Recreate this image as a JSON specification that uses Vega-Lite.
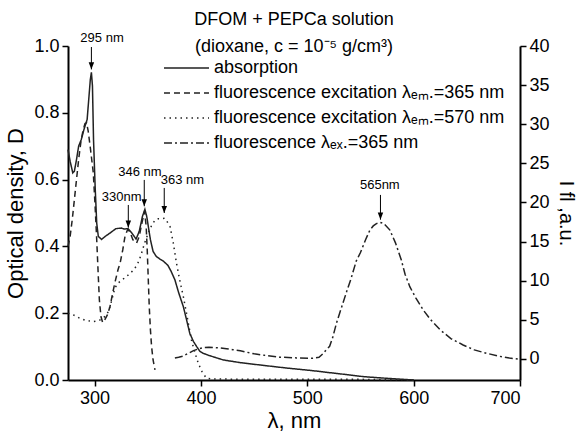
{
  "$schema": "https://vega.github.io/schema/vega-lite/v6.json",
  "width": 452,
  "height": 334,
  "autosize": {"type": "none"},
  "padding": {"left": 68, "top": 46, "right": 57, "bottom": 54},
  "background": "white",
  "title": {
    "text": ["DFOM + PEPCa solution", "(dioxane, c = 10⁻⁵ g/cm³)"],
    "font": "Liberation Sans",
    "fontSize": 18,
    "fontWeight": "normal",
    "color": "#000",
    "lineHeight": 27,
    "anchor": "middle",
    "offset": -24
  },
  "datasets": {
    "spectra": [
      {"s": "abs", "wl": 275, "v": 0.69}, {"s": "abs", "wl": 277, "v": 0.655}, {"s": "abs", "wl": 279.5, "v": 0.62},
      {"s": "abs", "wl": 281, "v": 0.625}, {"s": "abs", "wl": 283, "v": 0.66}, {"s": "abs", "wl": 285, "v": 0.7},
      {"s": "abs", "wl": 287.5, "v": 0.72}, {"s": "abs", "wl": 290, "v": 0.75}, {"s": "abs", "wl": 291.5, "v": 0.765},
      {"s": "abs", "wl": 293, "v": 0.78}, {"s": "abs", "wl": 294.5, "v": 0.84}, {"s": "abs", "wl": 296, "v": 0.9},
      {"s": "abs", "wl": 297, "v": 0.921}, {"s": "abs", "wl": 298, "v": 0.88}, {"s": "abs", "wl": 299, "v": 0.72},
      {"s": "abs", "wl": 300.5, "v": 0.58}, {"s": "abs", "wl": 302, "v": 0.47}, {"s": "abs", "wl": 303.5, "v": 0.43},
      {"s": "abs", "wl": 306.5, "v": 0.421}, {"s": "abs", "wl": 310, "v": 0.43}, {"s": "abs", "wl": 314.5, "v": 0.44},
      {"s": "abs", "wl": 320, "v": 0.453}, {"s": "abs", "wl": 325, "v": 0.455}, {"s": "abs", "wl": 328, "v": 0.452},
      {"s": "abs", "wl": 331.5, "v": 0.453}, {"s": "abs", "wl": 335, "v": 0.44}, {"s": "abs", "wl": 339, "v": 0.422},
      {"s": "abs", "wl": 342, "v": 0.445}, {"s": "abs", "wl": 345, "v": 0.49}, {"s": "abs", "wl": 347.3, "v": 0.511},
      {"s": "abs", "wl": 349, "v": 0.49}, {"s": "abs", "wl": 351, "v": 0.45}, {"s": "abs", "wl": 352.5, "v": 0.42},
      {"s": "abs", "wl": 355, "v": 0.385}, {"s": "abs", "wl": 358, "v": 0.37}, {"s": "abs", "wl": 361.5, "v": 0.362},
      {"s": "abs", "wl": 365, "v": 0.355}, {"s": "abs", "wl": 369, "v": 0.343}, {"s": "abs", "wl": 372, "v": 0.325},
      {"s": "abs", "wl": 375.5, "v": 0.3}, {"s": "abs", "wl": 379, "v": 0.262}, {"s": "abs", "wl": 383.5, "v": 0.219},
      {"s": "abs", "wl": 386.5, "v": 0.18}, {"s": "abs", "wl": 389.5, "v": 0.14}, {"s": "abs", "wl": 393, "v": 0.115},
      {"s": "abs", "wl": 396, "v": 0.1}, {"s": "abs", "wl": 399, "v": 0.086}, {"s": "abs", "wl": 402, "v": 0.08},
      {"s": "abs", "wl": 408, "v": 0.073}, {"s": "abs", "wl": 415, "v": 0.066}, {"s": "abs", "wl": 421, "v": 0.06},
      {"s": "abs", "wl": 437, "v": 0.052}, {"s": "abs", "wl": 458, "v": 0.044}, {"s": "abs", "wl": 480, "v": 0.036},
      {"s": "abs", "wl": 505, "v": 0.028}, {"s": "abs", "wl": 521, "v": 0.022}, {"s": "abs", "wl": 540, "v": 0.015},
      {"s": "abs", "wl": 553, "v": 0.01}, {"s": "abs", "wl": 575, "v": 0.005}, {"s": "abs", "wl": 600, "v": 0.0},

      {"s": "ex365", "wl": 275, "v": 0.4}, {"s": "ex365", "wl": 277, "v": 0.43}, {"s": "ex365", "wl": 279, "v": 0.48},
      {"s": "ex365", "wl": 281, "v": 0.54}, {"s": "ex365", "wl": 283, "v": 0.6}, {"s": "ex365", "wl": 285, "v": 0.66},
      {"s": "ex365", "wl": 287, "v": 0.71}, {"s": "ex365", "wl": 289, "v": 0.745}, {"s": "ex365", "wl": 291, "v": 0.768},
      {"s": "ex365", "wl": 292.5, "v": 0.77}, {"s": "ex365", "wl": 294, "v": 0.745}, {"s": "ex365", "wl": 296, "v": 0.695},
      {"s": "ex365", "wl": 298.8, "v": 0.62}, {"s": "ex365", "wl": 300.5, "v": 0.52}, {"s": "ex365", "wl": 302, "v": 0.42},
      {"s": "ex365", "wl": 303.5, "v": 0.31}, {"s": "ex365", "wl": 304.5, "v": 0.24}, {"s": "ex365", "wl": 306, "v": 0.19},
      {"s": "ex365", "wl": 307.6, "v": 0.172}, {"s": "ex365", "wl": 309.5, "v": 0.18}, {"s": "ex365", "wl": 312, "v": 0.195},
      {"s": "ex365", "wl": 314.5, "v": 0.22}, {"s": "ex365", "wl": 317, "v": 0.26}, {"s": "ex365", "wl": 319, "v": 0.29},
      {"s": "ex365", "wl": 322, "v": 0.33}, {"s": "ex365", "wl": 324, "v": 0.35}, {"s": "ex365", "wl": 326.5, "v": 0.39},
      {"s": "ex365", "wl": 328.6, "v": 0.43}, {"s": "ex365", "wl": 331, "v": 0.45}, {"s": "ex365", "wl": 333, "v": 0.445},
      {"s": "ex365", "wl": 336, "v": 0.42}, {"s": "ex365", "wl": 339.5, "v": 0.41}, {"s": "ex365", "wl": 342, "v": 0.43},
      {"s": "ex365", "wl": 344.5, "v": 0.47}, {"s": "ex365", "wl": 347, "v": 0.505}, {"s": "ex365", "wl": 348.5, "v": 0.46},
      {"s": "ex365", "wl": 349.5, "v": 0.39}, {"s": "ex365", "wl": 350.5, "v": 0.3}, {"s": "ex365", "wl": 351.4, "v": 0.22},
      {"s": "ex365", "wl": 352.5, "v": 0.15}, {"s": "ex365", "wl": 353.6, "v": 0.1}, {"s": "ex365", "wl": 355, "v": 0.06},
      {"s": "ex365", "wl": 356.8, "v": 0.03},

      {"s": "ex570", "wl": 275, "v": 0.2}, {"s": "ex570", "wl": 280, "v": 0.195}, {"s": "ex570", "wl": 286, "v": 0.185},
      {"s": "ex570", "wl": 292, "v": 0.178}, {"s": "ex570", "wl": 299, "v": 0.175}, {"s": "ex570", "wl": 304, "v": 0.178},
      {"s": "ex570", "wl": 308, "v": 0.185}, {"s": "ex570", "wl": 311, "v": 0.195}, {"s": "ex570", "wl": 313, "v": 0.205},
      {"s": "ex570", "wl": 315, "v": 0.225}, {"s": "ex570", "wl": 317, "v": 0.25}, {"s": "ex570", "wl": 319, "v": 0.275},
      {"s": "ex570", "wl": 322, "v": 0.29}, {"s": "ex570", "wl": 326, "v": 0.3}, {"s": "ex570", "wl": 330, "v": 0.31},
      {"s": "ex570", "wl": 333, "v": 0.318}, {"s": "ex570", "wl": 336.5, "v": 0.329}, {"s": "ex570", "wl": 339, "v": 0.34},
      {"s": "ex570", "wl": 341.5, "v": 0.355}, {"s": "ex570", "wl": 344, "v": 0.378}, {"s": "ex570", "wl": 347, "v": 0.41},
      {"s": "ex570", "wl": 350.5, "v": 0.44}, {"s": "ex570", "wl": 353.5, "v": 0.462}, {"s": "ex570", "wl": 356.8, "v": 0.479},
      {"s": "ex570", "wl": 360, "v": 0.483}, {"s": "ex570", "wl": 363, "v": 0.483}, {"s": "ex570", "wl": 366, "v": 0.484},
      {"s": "ex570", "wl": 368, "v": 0.475}, {"s": "ex570", "wl": 371, "v": 0.459}, {"s": "ex570", "wl": 374, "v": 0.41},
      {"s": "ex570", "wl": 377, "v": 0.35}, {"s": "ex570", "wl": 380, "v": 0.3}, {"s": "ex570", "wl": 383.5, "v": 0.249},
      {"s": "ex570", "wl": 387, "v": 0.19}, {"s": "ex570", "wl": 391, "v": 0.12}, {"s": "ex570", "wl": 394.5, "v": 0.08},
      {"s": "ex570", "wl": 397.5, "v": 0.05}, {"s": "ex570", "wl": 401, "v": 0.025}, {"s": "ex570", "wl": 405, "v": 0.006},
      {"s": "ex570", "wl": 410, "v": 0.003}, {"s": "ex570", "wl": 450, "v": 0.002}, {"s": "ex570", "wl": 500, "v": 0.002},
      {"s": "ex570", "wl": 550, "v": 0.002}, {"s": "ex570", "wl": 600, "v": 0.0},

      {"s": "fl", "wl": 375.5, "v": 0.1}, {"s": "fl", "wl": 379, "v": 0.2}, {"s": "fl", "wl": 383, "v": 0.35},
      {"s": "fl", "wl": 388, "v": 0.7}, {"s": "fl", "wl": 393, "v": 1.05}, {"s": "fl", "wl": 398, "v": 1.3},
      {"s": "fl", "wl": 403, "v": 1.45}, {"s": "fl", "wl": 407.5, "v": 1.48}, {"s": "fl", "wl": 412, "v": 1.45},
      {"s": "fl", "wl": 418, "v": 1.4}, {"s": "fl", "wl": 424, "v": 1.3}, {"s": "fl", "wl": 430, "v": 1.18},
      {"s": "fl", "wl": 437, "v": 1.05}, {"s": "fl", "wl": 443, "v": 0.85}, {"s": "fl", "wl": 450, "v": 0.65},
      {"s": "fl", "wl": 460, "v": 0.45}, {"s": "fl", "wl": 474, "v": 0.22}, {"s": "fl", "wl": 490, "v": 0.12},
      {"s": "fl", "wl": 505, "v": 0.08}, {"s": "fl", "wl": 511, "v": 0.2}, {"s": "fl", "wl": 515, "v": 0.7},
      {"s": "fl", "wl": 518, "v": 1.2}, {"s": "fl", "wl": 521, "v": 1.6}, {"s": "fl", "wl": 524, "v": 2.8},
      {"s": "fl", "wl": 527.5, "v": 4.6}, {"s": "fl", "wl": 532, "v": 6.5}, {"s": "fl", "wl": 537, "v": 8.6},
      {"s": "fl", "wl": 541, "v": 10.2}, {"s": "fl", "wl": 546, "v": 12.5}, {"s": "fl", "wl": 550, "v": 13.6},
      {"s": "fl", "wl": 555, "v": 15.3}, {"s": "fl", "wl": 559, "v": 16.5}, {"s": "fl", "wl": 562, "v": 17.0},
      {"s": "fl", "wl": 565, "v": 17.3}, {"s": "fl", "wl": 568.5, "v": 17.45}, {"s": "fl", "wl": 572, "v": 17.3},
      {"s": "fl", "wl": 577.5, "v": 16.5}, {"s": "fl", "wl": 583, "v": 14.8}, {"s": "fl", "wl": 588.5, "v": 12.6},
      {"s": "fl", "wl": 592, "v": 10.8}, {"s": "fl", "wl": 596.5, "v": 9.2}, {"s": "fl", "wl": 602, "v": 7.8},
      {"s": "fl", "wl": 609, "v": 6.25}, {"s": "fl", "wl": 616, "v": 5.0}, {"s": "fl", "wl": 625, "v": 3.7},
      {"s": "fl", "wl": 635, "v": 2.6}, {"s": "fl", "wl": 646.5, "v": 1.78}, {"s": "fl", "wl": 657, "v": 1.15},
      {"s": "fl", "wl": 668.5, "v": 0.72}, {"s": "fl", "wl": 680, "v": 0.35}, {"s": "fl", "wl": 690, "v": 0.1},
      {"s": "fl", "wl": 700, "v": -0.05}
    ],
    "notes": [
      {"label": "295 nm", "axis": "D", "wl": 297, "top": 0.997, "tip": 0.93, "lx": 307, "ly": 1.024},
      {"label": "330nm", "axis": "D", "wl": 331.7, "top": 0.524, "tip": 0.456, "lx": 325.5, "ly": 0.549},
      {"label": "346 nm", "axis": "D", "wl": 346.7, "top": 0.599, "tip": 0.52, "lx": 342.7, "ly": 0.624},
      {"label": "363 nm", "axis": "D", "wl": 365.5, "top": 0.575, "tip": 0.5, "lx": 382.6, "ly": 0.599},
      {"label": "565nm", "axis": "I", "wl": 568.8, "top": 20.96, "tip": 17.8, "lx": 568.2, "ly": 22.2}
    ]
  },
  "config": {
    "view": {"stroke": null},
    "font": "Liberation Sans",
    "axis": {
      "domainColor": "#000",
      "domainWidth": 2,
      "tickColor": "#000",
      "tickWidth": 1.5,
      "tickSize": 6,
      "labelColor": "#000",
      "labelFont": "Liberation Sans",
      "labelFontSize": 18,
      "labelPadding": 3,
      "titleFont": "Liberation Sans",
      "titleFontSize": 22,
      "titleFontWeight": "normal",
      "titleColor": "#000",
      "grid": false
    },
    "legend": {
      "orient": "none",
      "legendX": 95,
      "legendY": 12,
      "padding": 0,
      "symbolType": "stroke",
      "symbolSize": 2025,
      "symbolStrokeWidth": 1.5,
      "symbolStrokeColor": "#222",
      "labelFont": "Liberation Sans",
      "labelFontSize": 18,
      "labelColor": "#000",
      "labelLimit": 0,
      "labelOffset": 4,
      "clipHeight": 20,
      "rowPadding": 5
    }
  },
  "layer": [
    {
      "layer": [
        {
          "data": {"name": "spectra"},
          "transform": [{"filter": "datum.s != 'fl'"}],
          "mark": {"type": "line", "strokeWidth": 1.5, "color": "#222"},
          "encoding": {
            "x": {
              "field": "wl", "type": "quantitative",
              "scale": {"domain": [275, 700], "nice": false, "zero": false},
              "axis": {"values": [300, 400, 500, 600, 700], "title": "λ, nm", "titlePadding": 3}
            },
            "y": {
              "field": "v", "type": "quantitative",
              "scale": {"domain": [0, 1], "nice": false, "zero": false},
              "axis": {"orient": "left", "values": [0, 0.2, 0.4, 0.6, 0.8, 1.0], "format": ".1f", "title": "Optical density, D", "titlePadding": 6}
            },
            "strokeDash": {
              "field": "s", "type": "nominal",
              "scale": {"domain": ["abs", "ex365", "ex570", "fl"], "range": [[1, 0], [6, 4], [1.5, 4], [8, 3, 2, 3]]},
              "legend": {
                "title": null,
                "labelExpr": "datum.value == 'abs' ? 'absorption' : datum.value == 'ex365' ? 'fluorescence excitation λₑₘ.=365 nm' : datum.value == 'ex570' ? 'fluorescence excitation λₑₘ.=570 nm' : 'fluorescence  λₑₓ.=365 nm'"
              }
            }
          }
        },
        {
          "data": {"name": "notes"},
          "transform": [{"filter": "datum.axis == 'D'"}],
          "mark": {"type": "rule", "color": "#000", "strokeWidth": 1},
          "encoding": {
            "x": {"field": "wl", "type": "quantitative"},
            "y": {"field": "top", "type": "quantitative"},
            "y2": {"field": "tip"}
          }
        },
        {
          "data": {"name": "notes"},
          "transform": [{"filter": "datum.axis == 'D'"}],
          "mark": {"type": "point", "shape": "M-1,-2.6L1,-2.6L0,0Z", "filled": true, "color": "#000", "opacity": 1, "size": 30},
          "encoding": {
            "x": {"field": "wl", "type": "quantitative"},
            "y": {"field": "tip", "type": "quantitative"}
          }
        },
        {
          "data": {"name": "notes"},
          "transform": [{"filter": "datum.axis == 'D'"}],
          "mark": {"type": "text", "fontSize": 13, "color": "#000", "align": "center", "baseline": "middle"},
          "encoding": {
            "x": {"field": "lx", "type": "quantitative"},
            "y": {"field": "ly", "type": "quantitative"},
            "text": {"field": "label"}
          }
        }
      ]
    },
    {
      "layer": [
        {
          "data": {"name": "spectra"},
          "transform": [{"filter": "datum.s == 'fl'"}],
          "mark": {"type": "line", "strokeWidth": 1.5, "color": "#222"},
          "encoding": {
            "x": {"field": "wl", "type": "quantitative"},
            "y": {
              "field": "v", "type": "quantitative",
              "scale": {"domain": [-2.7, 40], "nice": false, "zero": false},
              "axis": {"orient": "right", "values": [0, 5, 10, 15, 20, 25, 30, 35, 40], "title": "I fl ,a.u.", "titleFontSize": 20, "titlePadding": 6}
            },
            "strokeDash": {
              "field": "s", "type": "nominal",
              "scale": {"domain": ["abs", "ex365", "ex570", "fl"], "range": [[1, 0], [6, 4], [1.5, 4], [8, 3, 2, 3]]}
            }
          }
        },
        {
          "data": {"name": "notes"},
          "transform": [{"filter": "datum.axis == 'I'"}],
          "mark": {"type": "rule", "color": "#000", "strokeWidth": 1},
          "encoding": {
            "x": {"field": "wl", "type": "quantitative"},
            "y": {"field": "top", "type": "quantitative"},
            "y2": {"field": "tip"}
          }
        },
        {
          "data": {"name": "notes"},
          "transform": [{"filter": "datum.axis == 'I'"}],
          "mark": {"type": "point", "shape": "M-1,-2.6L1,-2.6L0,0Z", "filled": true, "color": "#000", "opacity": 1, "size": 30},
          "encoding": {
            "x": {"field": "wl", "type": "quantitative"},
            "y": {"field": "tip", "type": "quantitative"}
          }
        },
        {
          "data": {"name": "notes"},
          "transform": [{"filter": "datum.axis == 'I'"}],
          "mark": {"type": "text", "fontSize": 13, "color": "#000", "align": "center", "baseline": "middle"},
          "encoding": {
            "x": {"field": "lx", "type": "quantitative"},
            "y": {"field": "ly", "type": "quantitative"},
            "text": {"field": "label"}
          }
        }
      ]
    }
  ],
  "resolve": {"scale": {"y": "independent"}}
}
